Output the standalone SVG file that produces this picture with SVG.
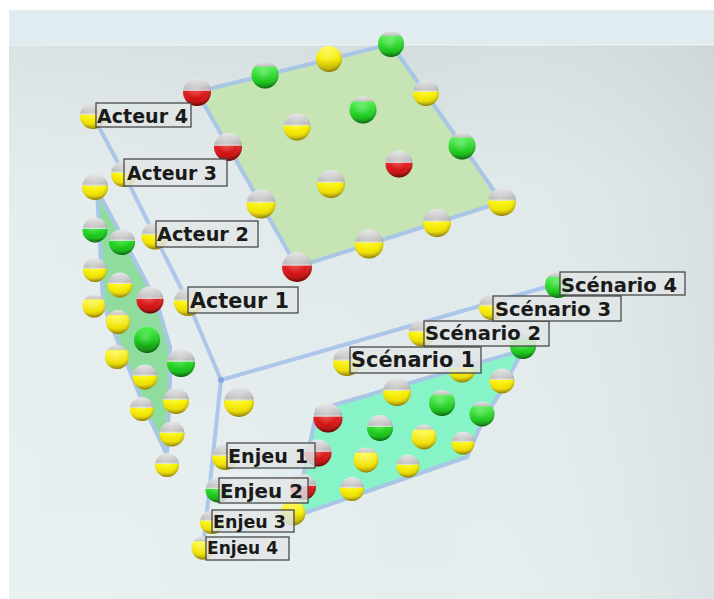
<svg xmlns="http://www.w3.org/2000/svg" xmlns:xlink="http://www.w3.org/1999/xlink" width="714" height="599" viewBox="0 0 714 599">
<defs>
<style>
.axis{fill:none;stroke:#a6c2ea;stroke-width:4;stroke-linejoin:round;stroke-opacity:0.9}
.edge{stroke:#a9c6e6;stroke-width:4;stroke-linejoin:round}
.lbl rect{fill:#e2e5e7;fill-opacity:0.82;stroke:#3c3c3c;stroke-width:1.2}
.lbl text{font-family:"DejaVu Sans","Liberation Sans",sans-serif;font-weight:bold;fill:#1a1a1a}
</style>
<linearGradient id="bg" x1="0" y1="0" x2="0" y2="1">
<stop offset="0" stop-color="#d2dbdc"/>
<stop offset="0.3" stop-color="#e0e9ea"/>
<stop offset="1" stop-color="#e5eeef"/>
</linearGradient>
<linearGradient id="bgx" x1="0" y1="0" x2="1" y2="0">
<stop offset="0" stop-color="#ffffff" stop-opacity="0.15"/>
<stop offset="0.6" stop-color="#ffffff" stop-opacity="0"/>
<stop offset="1" stop-color="#b8c2c4" stop-opacity="0.25"/>
</linearGradient>
<linearGradient id="gY" x1="0" y1="0" x2="0" y2="1">
<stop offset="0" stop-color="#e8e8e8"/><stop offset="0.38" stop-color="#bcbcbc"/><stop offset="0.44" stop-color="#e0e0c0"/>
<stop offset="0.47" stop-color="#fbf600"/><stop offset="0.8" stop-color="#f0e000"/><stop offset="1" stop-color="#b8a400"/>
</linearGradient>
<linearGradient id="gYc" x1="0" y1="0" x2="0" y2="1">
<stop offset="0" stop-color="#e6e6e6"/><stop offset="0.18" stop-color="#c6c6c6"/><stop offset="0.24" stop-color="#fdfa40"/>
<stop offset="0.75" stop-color="#f0e000"/><stop offset="1" stop-color="#b8a400"/>
</linearGradient>
<linearGradient id="gYf" x1="0" y1="0" x2="0" y2="1">
<stop offset="0" stop-color="#fffc60"/><stop offset="0.5" stop-color="#f6ec00"/><stop offset="1" stop-color="#b8a400"/>
</linearGradient>
<linearGradient id="gR" x1="0" y1="0" x2="0" y2="1">
<stop offset="0" stop-color="#e8e8e8"/><stop offset="0.38" stop-color="#bcbcbc"/><stop offset="0.44" stop-color="#e2d2d2"/>
<stop offset="0.47" stop-color="#e42020"/><stop offset="0.8" stop-color="#cc0c0c"/><stop offset="1" stop-color="#8a0000"/>
</linearGradient>
<linearGradient id="gG" x1="0" y1="0" x2="0" y2="1">
<stop offset="0" stop-color="#e8e8e8"/><stop offset="0.38" stop-color="#bcbcbc"/><stop offset="0.44" stop-color="#cee4ce"/>
<stop offset="0.47" stop-color="#26dc26"/><stop offset="0.8" stop-color="#14c014"/><stop offset="1" stop-color="#0a800a"/>
</linearGradient>
<linearGradient id="gGc" x1="0" y1="0" x2="0" y2="1">
<stop offset="0" stop-color="#e6e6e6"/><stop offset="0.16" stop-color="#c4c4c4"/><stop offset="0.22" stop-color="#50ee50"/>
<stop offset="0.75" stop-color="#18c818"/><stop offset="1" stop-color="#0a800a"/>
</linearGradient>
<linearGradient id="gGf" x1="0" y1="0" x2="0" y2="1">
<stop offset="0" stop-color="#50f050"/><stop offset="0.5" stop-color="#1ccc1c"/><stop offset="1" stop-color="#0a800a"/>
</linearGradient>
<radialGradient id="sh" cx="0.45" cy="0.4" r="0.6">
<stop offset="0" stop-color="#ffffff" stop-opacity="0.25"/>
<stop offset="0.6" stop-color="#ffffff" stop-opacity="0"/>
<stop offset="1" stop-color="#000000" stop-opacity="0.25"/>
</radialGradient>
<g id="Y"><circle r="1" fill="url(#gY)"/><circle r="1" fill="url(#sh)"/></g>
<g id="Yc"><circle r="1" fill="url(#gYc)"/><circle r="1" fill="url(#sh)"/></g>
<g id="Yf"><circle r="1" fill="url(#gYf)"/><circle r="1" fill="url(#sh)"/></g>
<g id="R"><circle r="1" fill="url(#gR)"/><circle r="1" fill="url(#sh)"/></g>
<g id="G"><circle r="1" fill="url(#gG)"/><circle r="1" fill="url(#sh)"/></g>
<g id="Gc"><circle r="1" fill="url(#gGc)"/><circle r="1" fill="url(#sh)"/></g>
<g id="Gf"><circle r="1" fill="url(#gGf)"/><circle r="1" fill="url(#sh)"/></g>
</defs>

<!-- background -->
<rect x="0" y="0" width="714" height="599" fill="#ffffff"/>
<rect x="9" y="10" width="705" height="589" fill="url(#bg)"/>
<rect x="9" y="10" width="705" height="589" fill="url(#bgx)"/>
<rect x="9" y="10" width="705" height="35" fill="#e1ecf0"/>
<rect x="9" y="44" width="705" height="1.5" fill="#eaf1f2"/>

<!-- panels -->
<g id="panel-top">
<polygon class="edge" points="197,92 391,44 502,202 297,267" fill="#c6e4b4"/>
</g>
<g id="panel-left">
<polygon class="edge" points="97,190 133,257 157,303 170,347 170,380 167,455 147,413 120,347 103,303 100,243" fill="#8edd9e"/>
</g>
<g id="panel-bottom">
<polygon class="edge" points="317,410 523,350 500,393 483,420 467,457 293,517 303,477" fill="#86f4c6"/>
</g>

<!-- connectors (axes) -->
<g id="connectors">
<polyline class="axis" points="93,116 124,174 155,236 188,302 221,380"/>
<line class="axis" x1="221" y1="380" x2="560" y2="283"/>
<line class="axis" x1="221" y1="380" x2="203" y2="549"/>
<circle cx="221" cy="380" r="3" fill="#86a6e4"/>
</g>

<!-- top panel balls -->
<g id="balls-top">
<use href="#R" transform="translate(197,92) scale(14)"/>
<use href="#Gc" transform="translate(265,75) scale(13.5)"/>
<use href="#Yf" transform="translate(329,59) scale(13)"/>
<use href="#Gc" transform="translate(391,44) scale(13)"/>
<use href="#Y" transform="translate(426,93) scale(13)"/>
<use href="#Gc" transform="translate(462,146) scale(13.5)"/>
<use href="#Y" transform="translate(502,202) scale(14)"/>
<use href="#Y" transform="translate(437,223) scale(14)"/>
<use href="#Y" transform="translate(369,244) scale(14.5)"/>
<use href="#R" transform="translate(297,267) scale(15)"/>
<use href="#R" transform="translate(228,147) scale(14)"/>
<use href="#Y" transform="translate(261,204) scale(14.5)"/>
<use href="#Y" transform="translate(297,127) scale(13.5)"/>
<use href="#Gc" transform="translate(363,110) scale(13.5)"/>
<use href="#R" transform="translate(399,164) scale(13.5)"/>
<use href="#Y" transform="translate(331,184) scale(14)"/>
</g>

<!-- left panel balls -->
<g id="balls-left">
<use href="#Y" transform="translate(95,187) scale(13)"/>
<use href="#G" transform="translate(95,230) scale(12.5)"/>
<use href="#G" transform="translate(122,242) scale(13)"/>
<use href="#Y" transform="translate(95,270) scale(12)"/>
<use href="#Y" transform="translate(120,285) scale(12.5)"/>
<use href="#R" transform="translate(150,300) scale(13.5)"/>
<use href="#Yc" transform="translate(94,306) scale(11.5)"/>
<use href="#Yc" transform="translate(118,322) scale(12)"/>
<use href="#Gf" transform="translate(147,340) scale(13)"/>
<use href="#Yc" transform="translate(117,357) scale(12)"/>
<use href="#G" transform="translate(181,363) scale(14)"/>
<use href="#Y" transform="translate(145,377) scale(12.5)"/>
<use href="#Y" transform="translate(176,401) scale(13)"/>
<use href="#Y" transform="translate(142,409) scale(12)"/>
<use href="#Y" transform="translate(172,434) scale(12.5)"/>
<use href="#Y" transform="translate(167,465) scale(12)"/>
</g>

<!-- bottom panel balls -->
<g id="balls-bottom">
<use href="#Y" transform="translate(239,402) scale(15)"/>
<use href="#R" transform="translate(328,418) scale(14.5)"/>
<use href="#Y" transform="translate(397,392) scale(14)"/>
<use href="#Y" transform="translate(462,369) scale(13.5)"/>
<use href="#Gc" transform="translate(523,346) scale(13)"/>
<use href="#Y" transform="translate(502,381) scale(12.5)"/>
<use href="#Gc" transform="translate(482,414) scale(12.5)"/>
<use href="#Y" transform="translate(463,443) scale(11.5)"/>
<use href="#Gc" transform="translate(442,403) scale(13)"/>
<use href="#G" transform="translate(380,428) scale(13)"/>
<use href="#Yc" transform="translate(424,437) scale(12.5)"/>
<use href="#Y" transform="translate(408,466) scale(11.5)"/>
<use href="#Yc" transform="translate(366,460) scale(12.5)"/>
<use href="#Y" transform="translate(352,489) scale(12)"/>
<use href="#R" transform="translate(318,453) scale(13.5)"/>
<use href="#R" transform="translate(303,487) scale(13)"/>
<use href="#Yf" transform="translate(293,513) scale(12.5)"/>
</g>

<!-- axis nodes with labels -->
<g id="acteur-4" class="lbl">
<use href="#Y" transform="translate(93,116) scale(13)"/>
<rect x="96" y="103" width="95" height="24"/>
<text x="97" y="123" font-size="20" textLength="91" lengthAdjust="spacingAndGlyphs">Acteur 4</text>
</g>
<g id="acteur-3" class="lbl">
<use href="#Y" transform="translate(124,174) scale(13)"/>
<rect x="124" y="159" width="103" height="27"/>
<text x="127" y="180" font-size="20" textLength="90" lengthAdjust="spacingAndGlyphs">Acteur 3</text>
</g>
<g id="acteur-2" class="lbl">
<use href="#Y" transform="translate(155,236) scale(13.5)"/>
<rect x="156" y="221" width="102" height="26"/>
<text x="157" y="241" font-size="20" textLength="92" lengthAdjust="spacingAndGlyphs">Acteur 2</text>
</g>
<g id="acteur-1" class="lbl">
<use href="#Y" transform="translate(188,302) scale(14)"/>
<rect x="188" y="287" width="110" height="26"/>
<text x="190" y="308" font-size="22" textLength="99" lengthAdjust="spacingAndGlyphs">Acteur 1</text>
</g>
<g id="scenario-1" class="lbl">
<use href="#Y" transform="translate(347,362) scale(14)"/>
<rect x="350" y="347" width="131" height="26"/>
<text x="351" y="367" font-size="21" textLength="124" lengthAdjust="spacingAndGlyphs">Scénario 1</text>
</g>
<g id="scenario-2" class="lbl">
<use href="#Y" transform="translate(422,333) scale(13.5)"/>
<rect x="424" y="321" width="125" height="25"/>
<text x="425" y="340" font-size="20" textLength="116" lengthAdjust="spacingAndGlyphs">Scénario 2</text>
</g>
<g id="scenario-3" class="lbl">
<use href="#Y" transform="translate(492,307) scale(13)"/>
<rect x="493" y="296" width="128" height="25"/>
<text x="495" y="316" font-size="20" textLength="116" lengthAdjust="spacingAndGlyphs">Scénario 3</text>
</g>
<g id="scenario-4" class="lbl">
<use href="#Gc" transform="translate(558,285) scale(13)"/>
<rect x="560" y="272" width="125" height="23"/>
<text x="561" y="292" font-size="20" textLength="116" lengthAdjust="spacingAndGlyphs">Scénario 4</text>
</g>
<g id="enjeu-1" class="lbl">
<use href="#Y" transform="translate(225,457) scale(13)"/>
<rect x="227" y="443" width="88" height="25"/>
<text x="228" y="463" font-size="20" textLength="80" lengthAdjust="spacingAndGlyphs">Enjeu 1</text>
</g>
<g id="enjeu-2" class="lbl">
<use href="#G" transform="translate(218,490) scale(12.5)"/>
<rect x="219" y="478" width="89" height="25"/>
<text x="220" y="498" font-size="20" textLength="83" lengthAdjust="spacingAndGlyphs">Enjeu 2</text>
</g>
<g id="enjeu-3" class="lbl">
<use href="#Y" transform="translate(212,522) scale(12)"/>
<rect x="212" y="510" width="82" height="22"/>
<text x="213" y="528" font-size="18" textLength="73" lengthAdjust="spacingAndGlyphs">Enjeu 3</text>
</g>
<g id="enjeu-4" class="lbl">
<use href="#Yc" transform="translate(203,548) scale(11.5)"/>
<rect x="206" y="537" width="83" height="23"/>
<text x="207" y="554" font-size="18" textLength="71" lengthAdjust="spacingAndGlyphs">Enjeu 4</text>
</g>
</svg>
